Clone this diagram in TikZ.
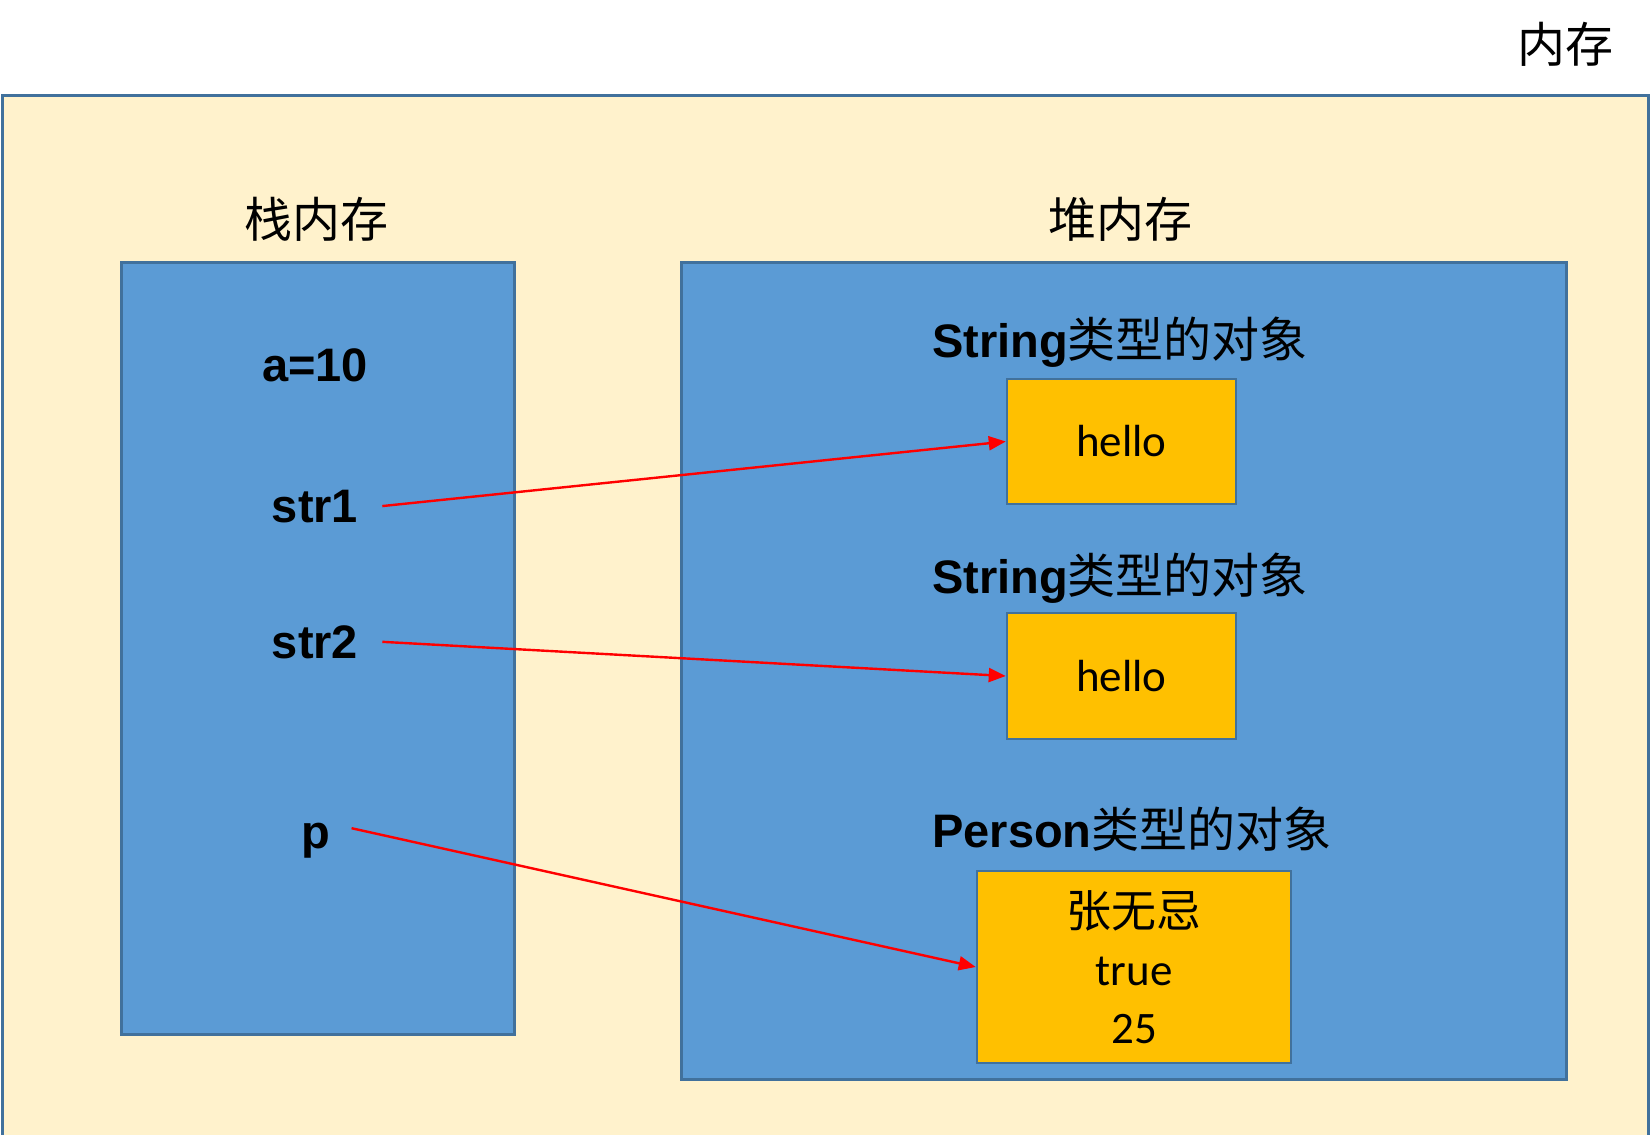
\documentclass[tikz,border=0pt]{standalone}
\usepackage{fontspec}
\setmainfont{Liberation Sans}
\newfontfamily\cjk{Noto Sans CJK SC}
\newfontfamily\cali{Carlito}
\usetikzlibrary{arrows.meta}
\definecolor{cream}{HTML}{FFF2CC}
\definecolor{edgeblue}{HTML}{41719C}
\definecolor{fillblue}{HTML}{5B9BD5}
\definecolor{gold}{HTML}{FFC000}
\definecolor{arrred}{HTML}{FF0000}
\begin{document}
\begin{tikzpicture}[x=1pt,y=-1pt,
  region/.style={draw=edgeblue, line width=2.5pt, fill=#1, anchor=north west, inner sep=0pt},
  objbox/.style={draw=edgeblue, line width=2.5pt, fill=gold, inner sep=0pt, align=center,
                 font=\cali\fontsize{45}{58}\selectfont},
  title/.style={font=\cjk\fontsize{48}{52}\selectfont, inner sep=0pt},
  var/.style={font=\bfseries\fontsize{47}{50}\selectfont, inner sep=0pt, anchor=base},
  objlabel/.style={font=\fontsize{47}{50}\selectfont, inner sep=0pt, anchor=base},
  ref/.style={draw=arrred, line width=2.4pt, -{Triangle[length=17pt,width=14pt]}}]
\useasboundingbox (0,0) rectangle (1650,1135);
% outer memory region
\node[region=cream, minimum width=1646pt, minimum height=1100pt] (mem) at (1,94) {};
\node[title] (memtitle) at (1565,44) {内存};
% stack
\node[region=fillblue, minimum width=393pt, minimum height=772pt] (stack) at (120,261) {};
\node[title] (stacktitle) at (316,219) {栈内存};
% heap
\node[region=fillblue, minimum width=885pt, minimum height=817pt] (heap) at (680,261) {};
\node[title] (heaptitle) at (1120,219) {堆内存};
% stack variables
\node[var] (a) at (315,381) {a=10};
\node[var] (str1) at (315,522) {str1};
\node[var] (str2) at (315,658) {str2};
\node[var] (p) at (316,848) {p};
% heap objects
\node[objlabel] (lab1) at (1120,357) {\bfseries String\cjk\mdseries\fontsize{48}{50}\selectfont 类型的对象};
\node[objbox, minimum width=229pt, minimum height=125pt] (hello1) at (1121.5,441.5) {hello};
\node[objlabel] (lab2) at (1120,593) {\bfseries String\cjk\mdseries\fontsize{48}{50}\selectfont 类型的对象};
\node[objbox, minimum width=229pt, minimum height=126pt] (hello2) at (1121.5,676) {hello};
\node[objlabel] (lab3) at (1132,847) {\bfseries Person\cjk\mdseries\fontsize{48}{50}\selectfont 类型的对象};
\node[objbox, minimum width=314pt, minimum height=192pt] (person) at (1134,967)
  {{\cjk 张无忌}\\true\\25};
% references
\draw[ref] ([xshift=24pt]str1.east) -- (hello1.west);
\draw[ref] ([xshift=24pt]str2.east) -- (hello2.west);
\draw[ref] ([xshift=21pt,yshift=12pt]p.east) -- (person.west);
\end{tikzpicture}
\end{document}
